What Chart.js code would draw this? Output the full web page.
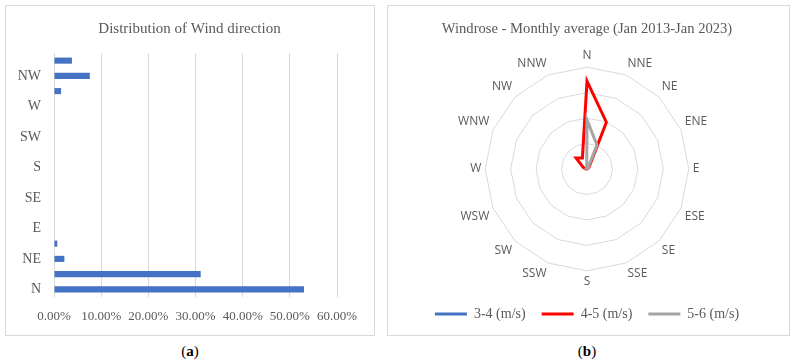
<!DOCTYPE html>
<html>
<head>
<meta charset="utf-8">
<script src="https://cdn.jsdelivr.net/npm/chart.js@4"></script>
<style>
  body { margin:0; background:#fff; width:793px; height:364px; position:relative; overflow:hidden; }
  .box { position:absolute; border:1px solid #d9d9d9; box-sizing:border-box; }
  .cap { position:absolute; top:343px; font-family:"Liberation Serif", serif; font-size:15px; color:#000; width:40px; text-align:center; }
  canvas { position:absolute; }
</style>
</head>
<body>
<div class="box" style="left:5px;top:5px;width:370px;height:331px"></div>
<div class="box" style="left:387px;top:5px;width:403px;height:331px"></div>
<canvas id="bars" style="left:6px;top:6px;width:367px;height:328px" width="367" height="328"></canvas>
<canvas id="rose" style="left:388px;top:6px;width:400px;height:328px" width="400" height="328"></canvas>
<div class="cap" style="left:170px">(<b>a</b>)</div>
<div class="cap" style="left:567px">(<b>b</b>)</div>
<script>
// wind directions, N first, going clockwise
const directions = ['N','NNE','NE','ENE','E','ESE','SE','SSE','S','SSW','SW','WSW','W','WNW','NW','NNW'];

// (a) share of each direction, in %
const windShare = [53.0, 31.1, 2.2, 0.7, 0, 0, 0, 0, 0, 0, 0, 0, 0, 1.5, 7.6, 3.8];
const shareTicks = [0, 10, 20, 30, 40, 50, 60];

// (b) windrose, one list per speed class
const speedClasses = ['3-4 (m/s)', '4-5 (m/s)', '5-6 (m/s)'];
const speed34 = [0, 0, 0, 0, 0, 0, 0, 0, 0, 0, 0, 0, 0, 0, 0, 0];
const speed45 = [34.5, 19.9, 1.2, 0.4, 0, 0, 0, 0, 0, 0, 0, 0, 0.3, 1.6, 6.1, 4.7];
const speed56 = [19.3, 10.2, 0.5, 0, 0, 0, 0, 0, 0, 0, 0, 0, 0, 0, 0.3, 0.3];

const serif = '"Liberation Serif", serif';
Chart.defaults.animation = false;
Chart.defaults.color = '#595959';

// title over the whole canvas width, not only the padded part
const fullTitle = {
  id: 'fullTitle',
  afterLayout(chart) { chart.titleBlock.left = 0; chart.titleBlock.right = chart.width; }
};

new Chart(document.getElementById('bars'), {
  type: 'bar',
  data: {
    labels: directions,
    datasets: [{ data: windShare, backgroundColor: '#4472C4', barPercentage: 0.4, categoryPercentage: 1 }]
  },
  options: {
    indexAxis: 'y',
    responsive: false,
    layout: { padding: { left: 0, right: 36, top: 0, bottom: 0 } },
    plugins: {
      legend: { display: false },
      tooltip: { enabled: false },
      title: { display: true, text: 'Distribution of Wind direction', color: '#595959',
               font: { family: serif, size: 15, weight: 'normal' }, padding: { top: 14, bottom: 15 } }
    },
    scales: {
      x: {
        min: shareTicks[0], max: shareTicks[shareTicks.length - 1],
        afterBuildTicks: s => { s.ticks = shareTicks.map(v => ({ value: v })); },
        afterFit: s => { s.height = 37; },
        grid: { color: '#d9d9d9', drawTicks: false },
        border: { display: false },
        ticks: { padding: 12, color: '#595959', font: { family: serif, size: 13 }, callback: v => v.toFixed(2) + '%' }
      },
      y: {
        reverse: true,
        afterFit: s => { s.width = 48; },
        grid: { display: false, drawTicks: false },
        border: { display: false },
        ticks: { autoSkip: false, padding: 13, color: '#595959', font: { family: serif, size: 14 },
                 callback: (v, i) => i % 2 === 0 ? directions[i] : '' }
      }
    }
  },
  plugins: [fullTitle]
});

const roseSets = [speed34, speed45, speed56];
const roseColors = ['#4472C4', '#FF0000', '#A5A5A5'];
new Chart(document.getElementById('rose'), {
  type: 'radar',
  data: {
    labels: directions,
    datasets: roseSets.map((d, i) => ({
      label: speedClasses[i], data: d, borderColor: roseColors[i], backgroundColor: roseColors[i],
      borderWidth: 3, pointRadius: 0, fill: false, tension: 0, order: 2 - i
    }))
  },
  options: {
    responsive: false,
    layout: { padding: { left: 0, right: 2, top: 0, bottom: 3 } },
    plugins: {
      tooltip: { enabled: false },
      title: { display: true, text: 'Windrose - Monthly average (Jan 2013-Jan 2023)', color: '#595959',
               font: { family: serif, size: 14.6, weight: 'normal' }, padding: { top: 14, bottom: 11.3 } },
      legend: {
        position: 'bottom',
        labels: { boxWidth: 32, boxHeight: 0, padding: 16, color: '#595959', font: { family: serif, size: 14 },
                  sort: (a, b) => a.datasetIndex - b.datasetIndex }
      }
    },
    scales: {
      r: {
        min: 0, max: 40,
        ticks: { display: false, stepSize: 10 },
        angleLines: { display: false },
        grid: { color: '#d9d9d9', lineWidth: 1 },
        pointLabels: { padding: 4, color: '#595959', font: { family: '"Open Sans", sans-serif', size: 12 } }
      }
    }
  }
});
</script>
</body>
</html>
